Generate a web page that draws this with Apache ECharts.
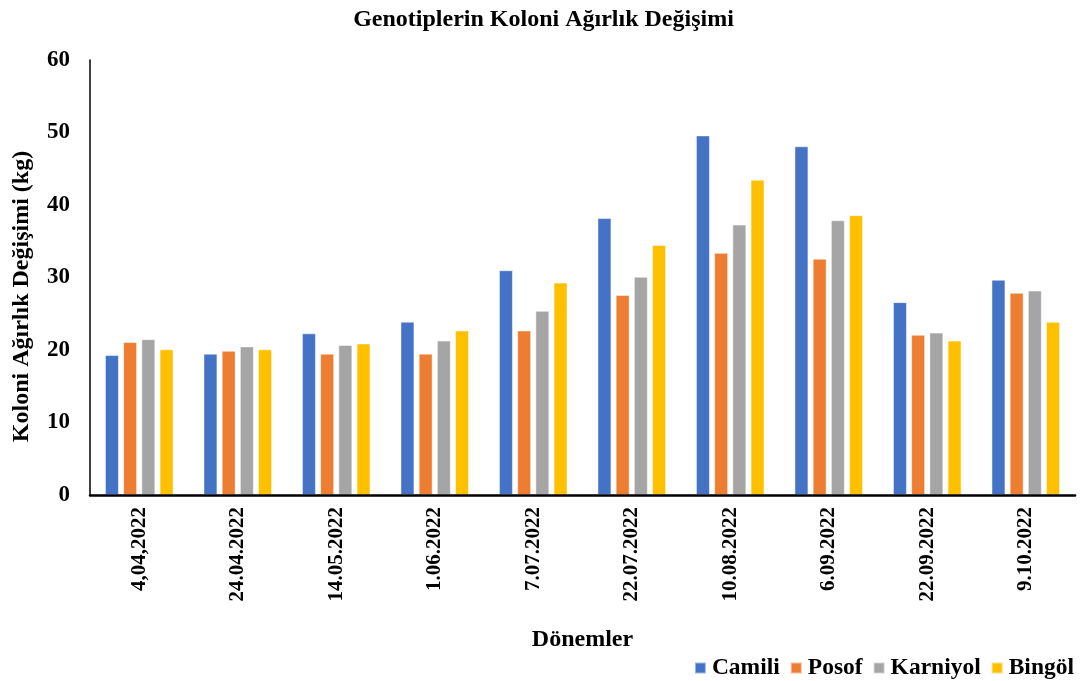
<!DOCTYPE html>
<html lang="tr">
<head>
<meta charset="UTF-8">
<title>Genotiplerin Koloni Ağırlık Değişimi</title>
<script src="https://cdn.jsdelivr.net/npm/echarts@6/dist/echarts.min.js"></script>
<style>
  html, body { margin: 0; padding: 0; background: #fff; }
  #chart { width: 1087px; height: 681px; }
</style>
</head>
<body>
<div id="chart"></div>
<script>
// dönemler
var donemler = ['4,04,2022', '24.04.2022', '14.05.2022', '1.06.2022', '7.07.2022',
  '22.07.2022', '10.08.2022', '6.09.2022', '22.09.2022', '9.10.2022'];
// genotip değerleri (kg)
var camili   = [19.3, 19.5, 22.3, 23.9, 31.0, 38.2, 49.6, 48.1, 26.6, 29.7];
var posof    = [21.1, 19.9, 19.5, 19.5, 22.7, 27.6, 33.4, 32.6, 22.1, 27.9];
var karniyol = [21.5, 20.5, 20.7, 21.3, 25.4, 30.1, 37.3, 37.9, 22.4, 28.2];
var bingol   = [20.1, 20.1, 20.9, 22.7, 29.3, 34.5, 43.5, 38.6, 21.3, 23.9];
var yTicks   = [0, 10, 20, 30, 40, 50, 60];

var font = '"Liberation Serif", "Times New Roman", serif';
var chart = echarts.init(document.getElementById('chart'));

function bar(name, data, color) {
  return {
    name: name,
    type: 'bar',
    data: data,
    barWidth: 14,
    barGap: '30%',
    itemStyle: { color: color, borderColor: 'rgba(255,255,255,0.5)', borderWidth: 1 }
  };
}

var option = {
  animation: false,
  title: {
    text: 'Genotiplerin Koloni Ağırlık Değişimi',
    left: 'center',
    top: 3,
    textStyle: { fontFamily: font, fontWeight: 'bold', fontSize: 24, color: '#000' }
  },
  legend: {
    right: 8,
    top: 651,
    itemWidth: 11,
    itemHeight: 11,
    itemGap: 10,
    icon: 'rect',
    textStyle: { fontFamily: font, fontWeight: 'bold', fontSize: 23.5, color: '#000', padding: [0, 0, 0, 1] }
  },
  grid: { left: 90, right: 12, top: 60, bottom: 186, containLabel: false, outerBoundsMode: 'none' },
  xAxis: {
    type: 'category',
    data: donemler,
    z: 10,
    name: 'Dönemler',
    nameLocation: 'middle',
    nameGap: 133,
    nameTextStyle: { fontFamily: font, fontWeight: 'bold', fontSize: 24, color: '#000' },
    axisLine: { lineStyle: { color: '#000', width: 2.5 } },
    axisTick: { show: false },
    axisLabel: {
      rotate: 90,
      margin: 12,
      interval: 0,
      fontFamily: font, fontWeight: 'bold', fontSize: 21, color: '#000'
    }
  },
  yAxis: {
    type: 'value',
    min: yTicks[0],
    max: yTicks[yTicks.length - 1],
    interval: 10,
    name: 'Koloni Ağırlık Değişimi (kg)',
    nameLocation: 'middle',
    nameGap: 56,
    nameTextStyle: { fontFamily: font, fontWeight: 'bold', fontSize: 24, color: '#000', padding: [0, 38, 0, 0] },
    axisLine: { show: true, lineStyle: { color: '#000', width: 1.5 } },
    axisTick: { show: false },
    splitLine: { show: false },
    axisLabel: { margin: 20, fontFamily: font, fontWeight: 'bold', fontSize: 23, color: '#000' }
  },
  series: [
    bar('Camili', camili, '#4472C4'),
    bar('Posof', posof, '#ED7D31'),
    bar('Karniyol', karniyol, '#A5A5A5'),
    bar('Bingöl', bingol, '#FFC000')
  ]
};

chart.setOption(option);
</script>
</body>
</html>
